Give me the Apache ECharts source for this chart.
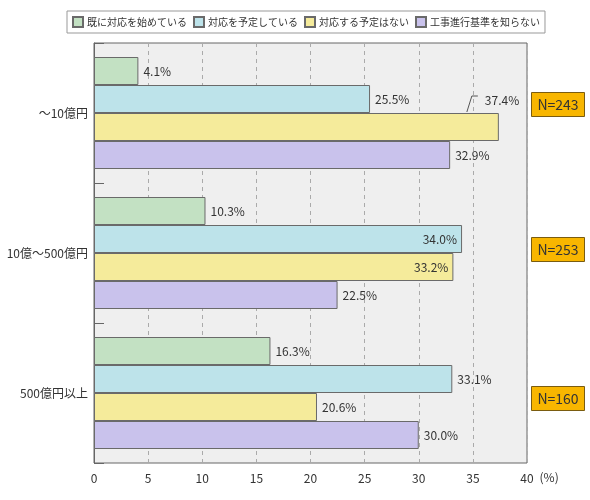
<!DOCTYPE html>
<html>
<head>
<meta charset="utf-8">
<script src="https://cdn.jsdelivr.net/npm/echarts@6/dist/echarts.min.js"></script>
<style>
  html, body { margin: 0; padding: 0; background: #fff; }
  #chart { width: 590px; height: 500px; }
</style>
</head>
<body>
<div id="chart"></div>
<script>
const categories = ['～10億円', '10億～500億円', '500億円以上']
const seriesNames = ['既に対応を始めている', '対応を予定している', '対応する予定はない', '工事進行基準を知らない']
const started = [4.1, 10.3, 16.3]
const planned = [25.5, 34.0, 33.1]
const noPlan = [37.4, 33.2, 20.6]
const unaware = [32.9, 22.5, 30.0]
const xTicks = [0, 5, 10, 15, 20, 25, 30, 35, 40]
const sampleSizes = ['N=243', 'N=253', 'N=160']

const colors = ['#c3e1c3', '#bde3ea', '#f5eb9b', '#c9c2ec']
const font = '"Noto Sans CJK JP", "Noto Sans", sans-serif'

// labels that sit inside the bar in the original
const insideLabels = { '1-1': true, '2-1': true }

function makeData (values, si) {
  return values.map((v, i) => {
    const item = { value: v }
    if (insideLabels[si + '-' + i]) {
      item.label = { position: 'insideRight' }
    }
    return item
  })
}

const allValues = [started, planned, noPlan, unaware]

const nBoxes = sampleSizes.map((t, i) => ({
  type: 'group',
  left: 531,
  top: [92, 237, 386][i],
  children: [{
    type: 'rect',
    shape: { x: 0, y: 0, width: 53, height: 24 },
    style: { fill: '#f8b600', stroke: '#7a5c10', lineWidth: 1 }
  }, {
    type: 'text',
    x: 26.5,
    y: 12,
    style: {
      text: t,
      fill: '#333',
      font: '14px ' + font,
      align: 'center',
      verticalAlign: 'middle'
    }
  }]
}))

const chart = echarts.init(document.getElementById('chart'))
chart.setOption({
  backgroundColor: '#fff',
  textStyle: { fontFamily: font },
  legend: {
    left: 67,
    top: 11,
    width: 520,
    padding: [5, 5, 5, 5],
    icon: 'rect',
    itemWidth: 10,
    itemHeight: 10,
    itemGap: 6,
    borderColor: '#999',
    borderWidth: 1,
    backgroundColor: '#fff',
    textStyle: { fontSize: 10, color: '#333', fontFamily: font, padding: [0, 0, 0, -1] },
    data: seriesNames
  },
  grid: {
    left: 94,
    right: 63,
    top: 43,
    bottom: 37,
    show: true,
    backgroundColor: '#efefef',
    borderColor: '#666',
    borderWidth: 1,
    containLabel: false
  },
  xAxis: {
    type: 'value',
    min: 0,
    max: 40,
    interval: 5,
    name: '(%)',
    nameLocation: 'end',
    nameGap: 9,
    nameTextStyle: { color: '#333', fontSize: 12, fontFamily: font, verticalAlign: 'top', padding: [8, 0, 0, 0] },
    axisLine: { show: false },
    axisTick: { show: false },
    axisLabel: {
      color: '#333',
      fontSize: 12,
      margin: 9,
      formatter: v => xTicks.includes(v) ? String(v) : ''
    },
    splitLine: { show: true, lineStyle: { color: '#aaa', type: [4, 4], width: 1 } }
  },
  yAxis: {
    type: 'category',
    inverse: true,
    data: categories,
    axisLine: { show: true, lineStyle: { color: '#666' } },
    axisTick: { show: true, inside: true, length: 10, lineStyle: { color: '#666' } },
    axisLabel: { color: '#333', fontSize: 12, margin: 6 },
    splitLine: { show: false }
  },
  series: seriesNames.map((name, si) => ({
    name: name,
    type: 'bar',
    barGap: '0%',
    barCategoryGap: '20%',
    data: makeData(allValues[si], si),
    itemStyle: { color: colors[si], borderColor: '#6a6a6a', borderWidth: 1 },
    label: {
      show: true,
      position: 'right',
      distance: 5,
      color: '#333',
      fontSize: 12,
      formatter: p => p.value.toFixed(1) + '%'
    },
    labelLayout: si === 2 ? (p => p.dataIndex === 0 ? { dx: -19, dy: -27 } : {}) : undefined,
    animation: false
  })),
  graphic: nBoxes
})

// leader line for the lifted 37.4% label, placed from the axis scales
const barEnd = chart.convertToPixel({ xAxisIndex: 0 }, noPlan[0])
const barTop = chart.convertToPixel({ yAxisIndex: 0 }, categories[0])
chart.setOption({
  graphic: nBoxes.concat([{
    type: 'polyline',
    silent: true,
    shape: {
      points: [[barEnd - 32, barTop - 1], [barEnd - 27, barTop - 17], [barEnd - 21, barTop - 17]]
    },
    style: { stroke: '#555', lineWidth: 1, fill: null }
  }])
})
</script>
</body>
</html>
